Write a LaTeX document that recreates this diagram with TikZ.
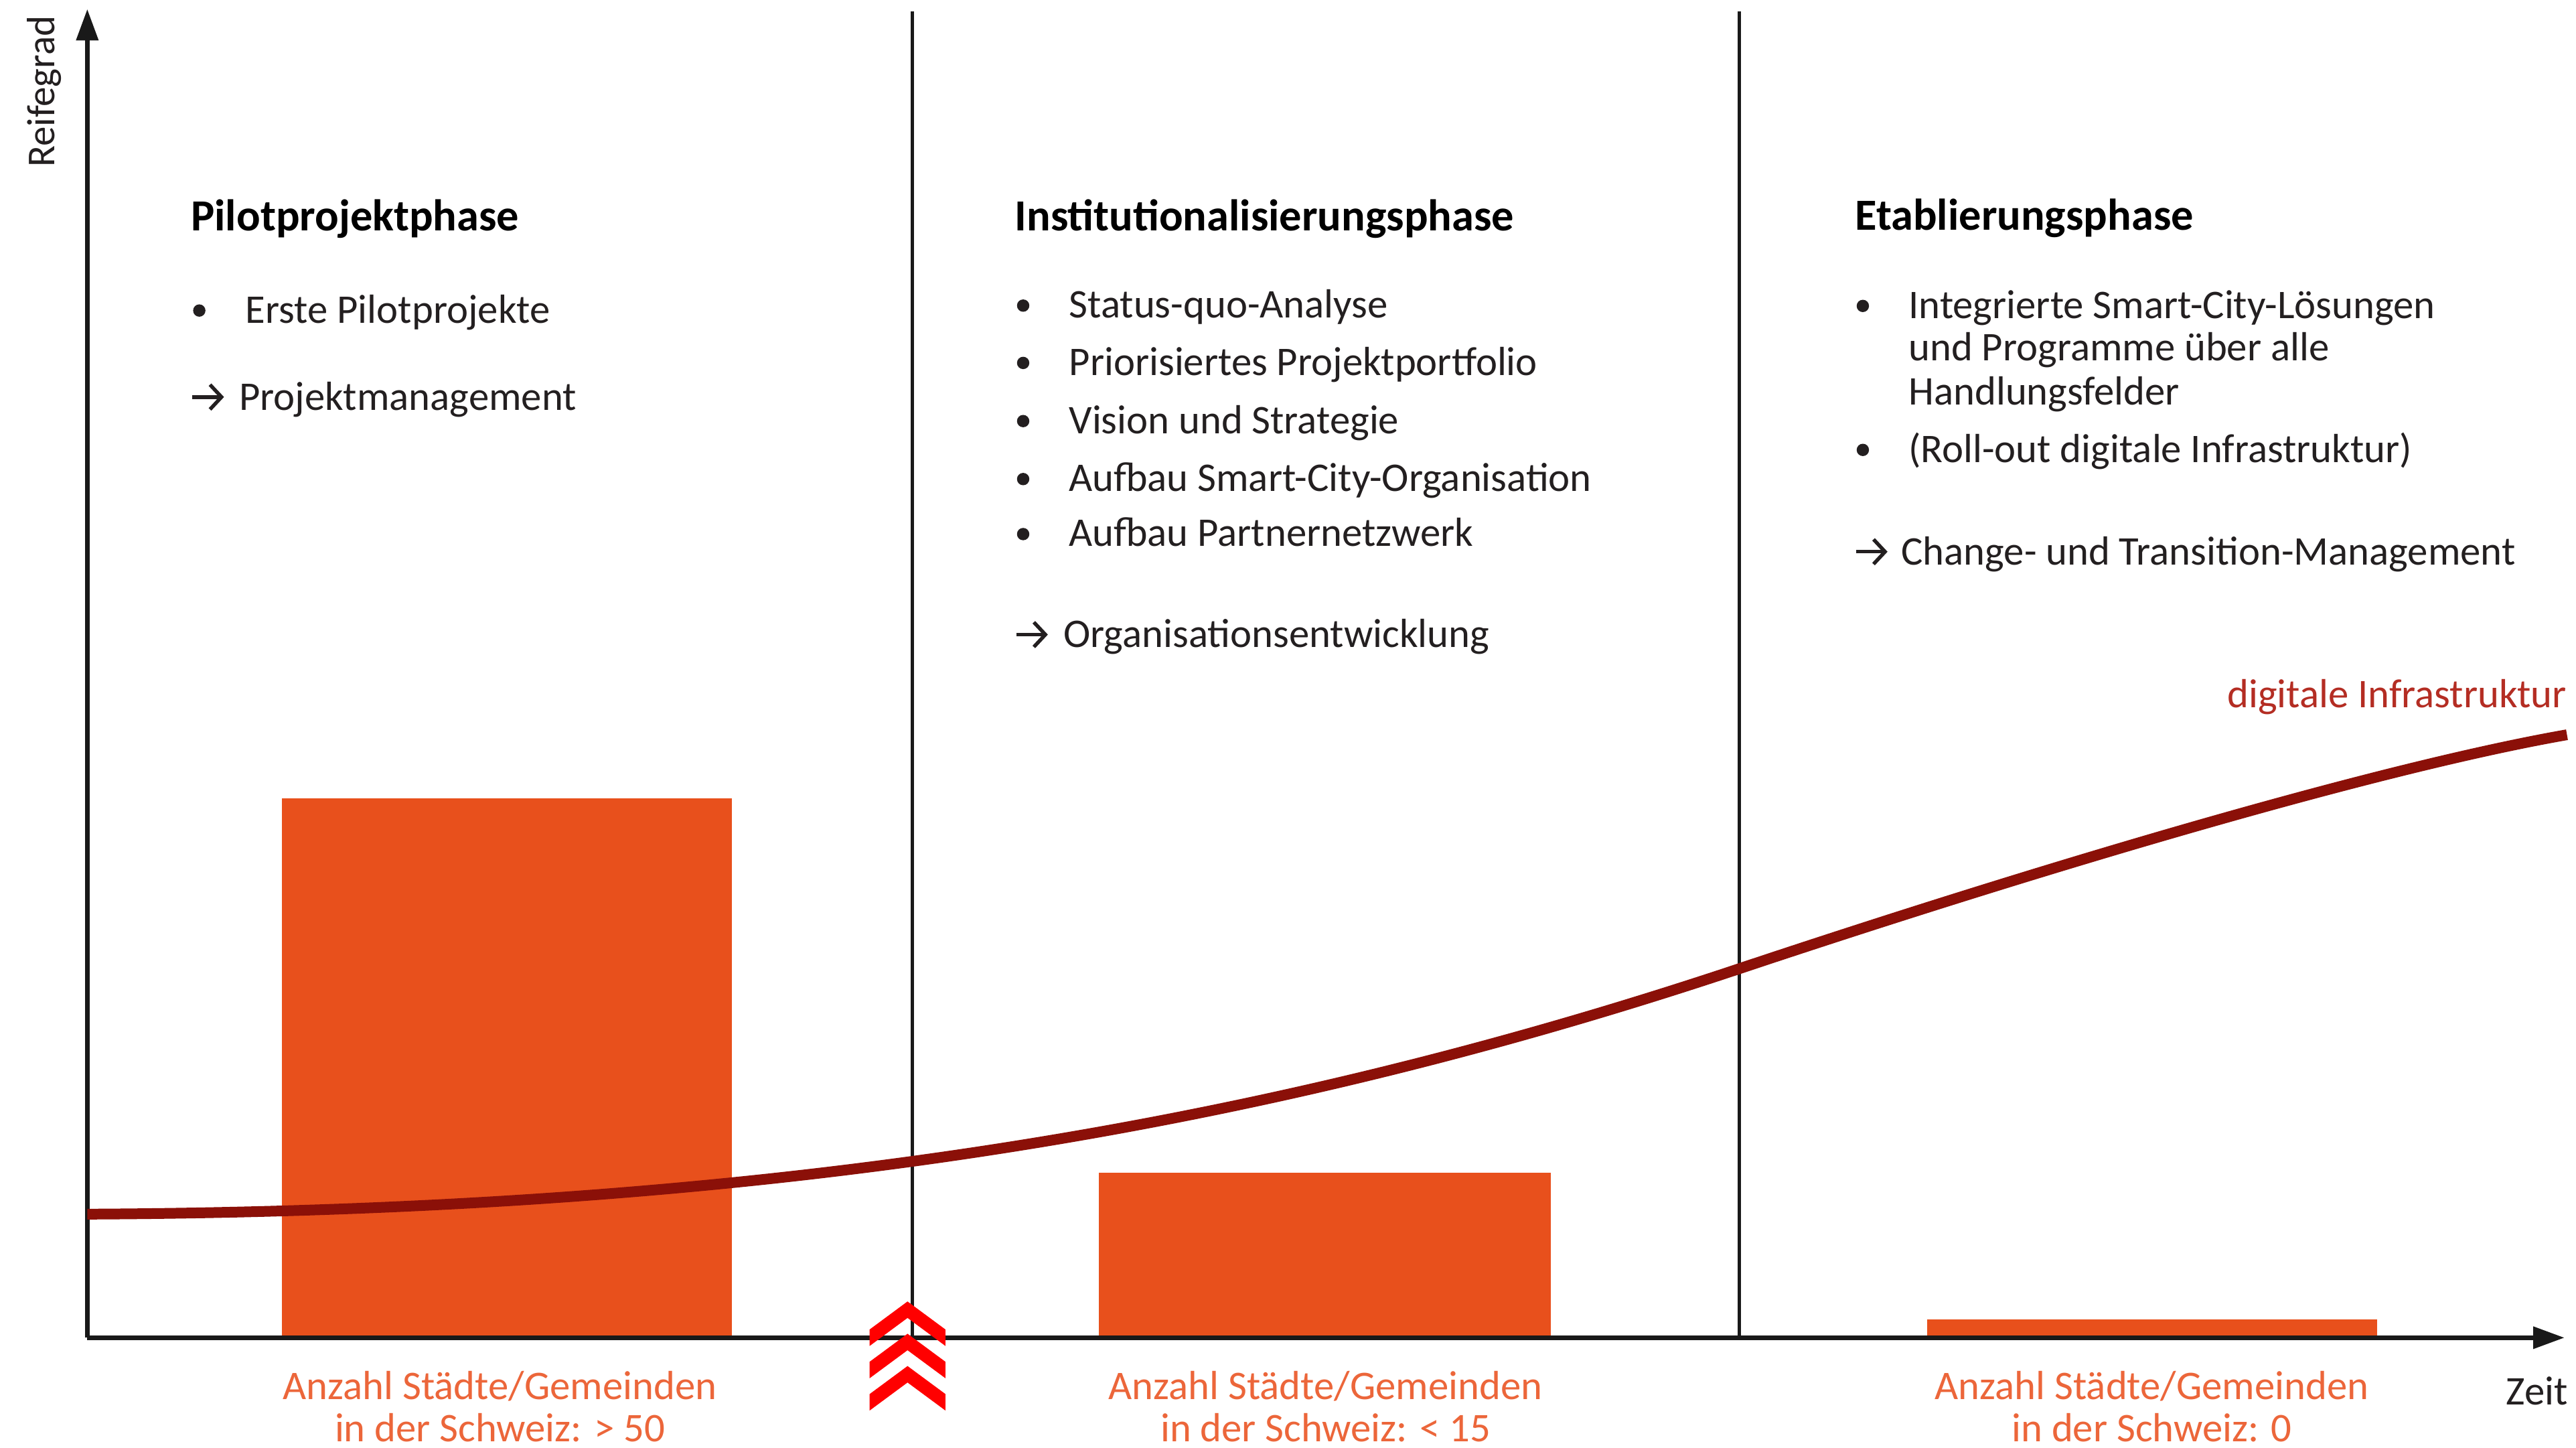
\documentclass[tikz,border=0pt]{standalone}
\usepackage{fontspec}
\setmainfont{Carlito}
\usetikzlibrary{arrows.meta}
\definecolor{txt}{RGB}{35,31,32}
\definecolor{barc}{RGB}{232,80,28}
\definecolor{lbl}{RGB}{236,102,58}
\definecolor{curvec}{RGB}{139,16,8}
\definecolor{infra}{RGB}{180,45,35}
\definecolor{chev}{RGB}{255,0,0}
\begin{document}
\begin{tikzpicture}[x=1pt,y=-1pt,
  body/.style={inner sep=0pt, anchor=base west, text=txt, font=\fontsize{24.7}{26.5}\selectfont},
  phasetitle/.style={inner sep=0pt, anchor=base west, text=black, font=\fontsize{27}{28}\selectfont\bfseries},
  dot/.style={circle, fill=txt, inner sep=0pt, minimum size=7.5pt},
  txtarrow/.style={line width=2.2pt, draw=txt, -{Straight Barb[length=7pt,width=15pt]}},
  lab/.style={inner sep=0pt, anchor=base, text=lbl, font=\fontsize{24.7}{26.5}\selectfont},
  axisline/.style={line width=2.8pt, draw=black!90, -{Triangle[length=19pt,width=13pt]}},
  divider/.style={line width=2.2pt, draw=black!90},
  bar/.style={fill=barc, draw=none, inner sep=0pt, anchor=south west},
  curveline/.style={line width=6.5pt, draw=curvec},
  chevron/.style={fill=chev, draw=none}
]
\path[use as bounding box, fill=white] (0,0) rectangle (1564,878.6);

% bars
\node[bar, minimum width=273pt, minimum height=327pt] (bar1) at (171,812) {};
\node[bar, minimum width=274.5pt, minimum height=100pt] (bar2) at (667,812) {};
\node[bar, minimum width=273pt, minimum height=11pt] (bar3) at (1170,812) {};

% axes and dividers
\coordinate (O) at (53,812);
\coordinate (ytop) at (53,5.5);
\coordinate (xend) at (1557,812);
\coordinate (d1t) at (554,7);
\coordinate (d1b) at (554,812);
\coordinate (d2t) at (1056,7);
\coordinate (d2b) at (1056,812);
\draw[divider] (d1t) -- (d1b);
\draw[divider] (d2t) -- (d2b);
\draw[axisline] (O) -- (ytop);
\draw[axisline] (O) -- (xend);

% curve
\coordinate (c0) at (53,737);
\coordinate (c1) at (1056,588);
\coordinate (c2) at (1558.5,446);
\draw[curveline] (c0) .. controls (450,735) and (750,690) .. (c1) .. controls (1256,521.3) and (1450,465) .. (c2);

% axis labels
\node[body, rotate=90] (reife) at (33,101.8) {\fontsize{24}{26}\selectfont Reifegrad};
\node[body] (zeit) at (1521.5,852.9) {Zeit};
\node[body, anchor=base east, text=infra] (infra) at (1558.5,429.6) {digitale Infrastruktur};

% Pilotprojektphase
\node[phasetitle] (t1) at (115.8,140) {Pilotprojektphase};
\node[dot] (p1b) at (121,188.5) {};
\node[body] (p1) at (149,196) {Erste Pilotprojekte};
\coordinate (p2s) at (116.6,241);
\coordinate (p2e) at (136,241);
\draw[txtarrow] (p2s) -- (p2e);
\node[body] (p2) at (145,249) {Projektmanagement};

% Institutionalisierungsphase
\node[phasetitle] (t2) at (616,140) {Institutionalisierungsphase};
\node[dot] (i1b) at (621.2,185.5) {};
\node[body] (i1) at (648.9,193) {Status-quo-Analyse};
\node[dot] (i2b) at (621.2,220.3) {};
\node[body] (i2) at (648.9,227.8) {Priorisiertes Projektportfolio};
\node[dot] (i3b) at (621.2,255.6) {};
\node[body] (i3) at (648.9,263.1) {Vision und Strategie};
\node[dot] (i4b) at (621.2,290.8) {};
\node[body] (i4) at (648.9,298.3) {Aufbau Smart-City-Organisation};
\node[dot] (i5b) at (621.2,324.2) {};
\node[body] (i5) at (648.9,331.7) {Aufbau Partnernetzwerk};
\coordinate (i6s) at (617,385.2);
\coordinate (i6e) at (636.2,385.2);
\draw[txtarrow] (i6s) -- (i6e);
\node[body] (i6) at (645.5,393.1) {Organisationsentwicklung};

% Etablierungsphase
\node[phasetitle] (t3) at (1126.2,139.8) {Etablierungsphase};
\node[dot] (e1b) at (1131,185.7) {};
\node[body] (e1) at (1158.6,193.2) {Integrierte Smart-City-Lösungen};
\node[body] (e1l2) at (1158.6,219.1) {und Programme über alle};
\node[body] (e1l3) at (1158.6,245.8) {Handlungsfelder};
\node[dot] (e2b) at (1131,273.1) {};
\node[body] (e2) at (1158.6,280.6) {(Roll-out digitale Infrastruktur)};
\coordinate (e3s) at (1127,334.9);
\coordinate (e3e) at (1146,334.9);
\draw[txtarrow] (e3s) -- (e3e);
\node[body] (e3) at (1154.2,342.8) {Change- und Transition-Management};

% bar labels
\node[lab] (l1a) at (303.5,849.5) {Anzahl Städte/Gemeinden};
\node[lab] (l1b) at (303.5,875) {in der Schweiz: > 50};
\node[lab] (l2a) at (804.8,849.5) {Anzahl Städte/Gemeinden};
\node[lab] (l2b) at (804.8,875) {in der Schweiz: < 15};
\node[lab] (l3a) at (1306.5,849.5) {Anzahl Städte/Gemeinden};
\node[lab] (l3b) at (1306.5,875) {in der Schweiz: 0};

% chevrons
\foreach \yy in {790,809.6,829.2}
  \fill[chevron] (551,\yy) -- ++(23,17) -- ++(0,10) -- ++(-23,-17) -- ++(-23,17) -- ++(0,-10) -- cycle;
\end{tikzpicture}
\end{document}
